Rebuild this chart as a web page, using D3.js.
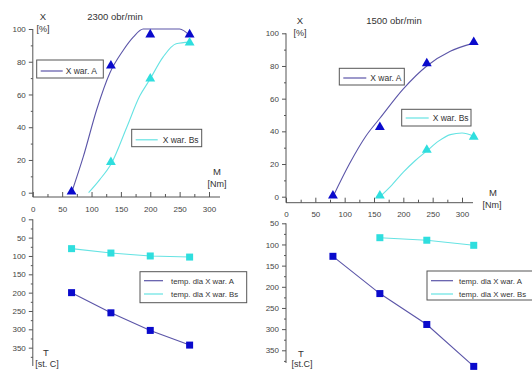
<!DOCTYPE html>
<html>
<head>
<meta charset="utf-8">
<script src="https://cdn.jsdelivr.net/npm/d3@7"></script>
<style>
  body { margin: 0; background: #fff; }
  svg { font-family: "Liberation Sans", Arial, sans-serif; }
  .tick text { fill: #444; font-size: 8px; }
  .domain, .tick line { stroke: #555; }
</style>
</head>
<body>
<div id="chart"></div>
<script>
// 2300 obr/min - X [%] vs M [Nm]
const m2300 = [66, 133, 200, 267];
const xA2300 = [0, 77, 96, 96];
const mBs2300 = [133, 200, 267];
const xBs2300 = [18, 69, 91];
// fitted curves
const fitA2300 = [[66,0],[86,22],[109,51],[131,73],[154,87],[171,95],[188,100],[250,100],[267,96]];
const fitBs2300 = [[95,0],[114,8],[134,18],[160,40],[182,59],[199,69],[222,83],[244,91],[267,92]];
const tA2300 = [200, 255, 303, 343];
const tBs2300 = [80, 92, 100, 103];

// 1500 obr/min
const m1500 = [80, 160, 240, 320];
const xA1500 = [0, 42, 81, 94];
const mBs1500 = [160, 240, 320];
const xBs1500 = [0, 28, 36];
const fitA1500 = [[80,0],[108,20],[136,37],[160,48],[200,66],[240,80],[280,89],[320,94]];
const fitBs1500 = [[160,0],[180,7],[200,15],[220,22],[240,28],[260,34],[280,38],[300,39],[320,37]];
const tA1500 = [128, 216, 289, 388];
const tBs1500 = [84, 90, 102];

const xTicks = [0, 50, 100, 150, 200, 250, 300];
const pctTicks = [0, 20, 40, 60, 80, 100];
const tTicksL = [0, 50, 100, 150, 200, 250, 300, 350];
const tTicksR = [50, 100, 150, 200, 250, 300, 350];

const colA = "#5b55a8", colAm = "#0a0acc";
const colB = "#66e3e3", colBm = "#2fdede";

const svg = d3.select("#chart").append("svg")
  .attr("width", 532).attr("height", 374);

function text(x, y, s, size, anchor) {
  svg.append("text").attr("x", x).attr("y", y)
    .attr("font-size", size || 9).attr("fill", "#333")
    .attr("text-anchor", anchor || "middle").text(s);
}

function triangles(x, y, ms, vs, color) {
  svg.append("g").selectAll("path").data(ms).join("path")
    .attr("d", d3.symbol(d3.symbolTriangle, 42))
    .attr("transform", (d, i) => `translate(${x(d)},${y(vs[i]) - 1})`)
    .attr("fill", color);
}

function squares(x, y, ms, vs, color) {
  svg.append("g").selectAll("rect").data(ms).join("rect")
    .attr("x", d => x(d) - 3.5).attr("y", (d, i) => y(vs[i]) - 3.5)
    .attr("width", 7).attr("height", 7).attr("fill", color);
}

function legend(x0, y0, w, h, items, size) {
  svg.append("rect").attr("x", x0).attr("y", y0).attr("width", w).attr("height", h)
    .attr("fill", "#fff").attr("stroke", "#555").attr("stroke-width", 1);
  items.forEach((it, i) => {
    const yy = y0 + it.dy;
    svg.append("line").attr("x1", x0 + 4).attr("x2", x0 + it.len)
      .attr("y1", yy).attr("y2", yy).attr("stroke", it.color).attr("stroke-width", 1.2);
    svg.append("text").attr("x", x0 + it.len + it.gap).attr("y", yy + 3)
      .attr("font-size", size).attr("fill", "#333").text(it.label);
  });
}

function panel(p) {
  const x = d3.scaleLinear().domain([0, 300]).range(p.xr);
  const y = d3.scaleLinear().domain([0, 100]).range(p.yr);
  const yT = d3.scaleLinear().domain(p.tDom).range(p.tr);

  // top X axis (ticks pointing up)
  const gx = svg.append("g").attr("transform", `translate(0,${p.xAxisY})`);
  gx.call(d3.axisBottom(x).tickValues(xTicks).tickSize(-5).tickPadding(9));
  gx.select(".domain").attr("d", `M${p.xr[0]},0H${p.xEnd}`);
  svg.append("g").attr("transform", `translate(0,${p.xAxisY})`)
    .call(d3.axisBottom(x).tickValues(d3.range(25, 300, 50)).tickSize(-3).tickFormat(""))
    .select(".domain").remove();

  // top Y axis
  const gy = svg.append("g").attr("transform", `translate(${p.xr[0]},0)`);
  gy.call(d3.axisLeft(y).tickValues(pctTicks).tickSize(4).tickPadding(3));
  gy.select(".domain").attr("d", `M0,${y(100)}V${p.xAxisY}`);
  svg.append("g").attr("transform", `translate(${p.xr[0]},0)`)
    .call(d3.axisLeft(y).tickValues(d3.range(10, 100, 20)).tickSize(2).tickFormat(""))
    .select(".domain").remove();

  // bottom T axis
  const gt = svg.append("g").attr("transform", `translate(${p.xr[0]},0)`);
  gt.call(d3.axisLeft(yT).tickValues(p.tTicks).tickSize(4).tickPadding(3));
  gt.select(".domain").attr("d", `M0,${p.tr[0]}V${p.tr[1]}`);
  svg.append("g").attr("transform", `translate(${p.xr[0]},0)`)
    .call(d3.axisLeft(yT).tickValues(d3.range(p.tDom[0] + 25, p.tDom[1], 50)).tickSize(2).tickFormat(""))
    .select(".domain").remove();

  const line = d3.line().x(d => x(d[0])).y(d => y(d[1])).curve(d3.curveMonotoneX);
  svg.append("path").attr("d", line(p.fitA)).attr("fill", "none").attr("stroke", colA).attr("stroke-width", 1.1);
  svg.append("path").attr("d", line(p.fitBs)).attr("fill", "none").attr("stroke", colB).attr("stroke-width", 1.1);
  triangles(x, y, p.m, p.xA, colAm);
  triangles(x, y, p.mBs, p.xBs, colBm);

  const tl = (ms, vs) => d3.line().x(d => x(d)).y((d, i) => yT(vs[i]))(ms);
  svg.append("path").attr("d", tl(p.m, p.tA)).attr("fill", "none").attr("stroke", colA).attr("stroke-width", 1.1);
  svg.append("path").attr("d", tl(p.mBsT, p.tBs)).attr("fill", "none").attr("stroke", colB).attr("stroke-width", 1.1);
  squares(x, yT, p.m, p.tA, colAm);
  squares(x, yT, p.mBsT, p.tBs, colBm);
}

panel({
  xr: [32.8, 209], xEnd: 220, xAxisY: 197, yr: [192.7, 29],
  tDom: [0, 400], tr: [219.3, 366], tTicks: tTicksL,
  m: m2300, xA: xA2300, mBs: mBs2300, xBs: xBs2300,
  fitA: fitA2300, fitBs: fitBs2300, tA: tA2300, mBsT: m2300, tBs: tBs2300
});
panel({
  xr: [286, 462], xEnd: 473, xAxisY: 202.7, yr: [196.7, 33.3],
  tDom: [50, 380], tr: [223.3, 363], tTicks: tTicksR,
  m: m1500, xA: xA1500, mBs: mBs1500, xBs: xBs1500,
  fitA: fitA1500, fitBs: fitBs1500, tA: tA1500, mBsT: mBs1500, tBs: tBs1500
});

// titles and axis names
text(115, 20, "2300 obr/min", 9.5);
text(43, 20, "X", 9.5);
text(43, 32, "[%]", 9);
text(394, 24, "1500 obr/min", 9.5);
text(300, 24, "X", 9.5);
text(300, 36, "[%]", 9);
text(217, 175, "M", 9.5);
text(217, 187, "[Nm]", 9);
text(493, 196, "M", 9.5);
text(492, 208, "[Nm]", 9);
text(46, 356, "T", 9.5);
text(47, 367, "[st. C]", 9);
text(301, 357, "T", 9.5);
text(302, 367, "[st.C]", 9);

// legends
legend(36.7, 60, 66.6, 18, [{dy: 11, len: 26, gap: 3, color: colA, label: "X war. A"}], 8.5);
legend(131.7, 129.3, 70, 17.4, [{dy: 10.5, len: 26, gap: 5, color: colB, label: "X war. Bs"}], 8.5);
legend(339.3, 68.3, 65, 16.7, [{dy: 9.7, len: 27, gap: 4, color: colA, label: "X war. A"}], 8.5);
legend(401.7, 109.3, 69.3, 16.7, [{dy: 8.7, len: 27, gap: 4, color: colB, label: "X war. Bs"}], 8.5);
legend(140, 271.7, 106.7, 31, [
  {dy: 9, len: 23, gap: 8, color: colA, label: "temp. dla X war. A"},
  {dy: 22.3, len: 23, gap: 8, color: colB, label: "temp. dla X war. Bs"}], 7.8);
legend(427, 271, 108, 29, [
  {dy: 9.7, len: 26, gap: 6, color: colA, label: "temp. dla X war. A"},
  {dy: 23, len: 26, gap: 6, color: colB, label: "temp. dla X wer. Bs"}], 7.8);
</script>
</body>
</html>
